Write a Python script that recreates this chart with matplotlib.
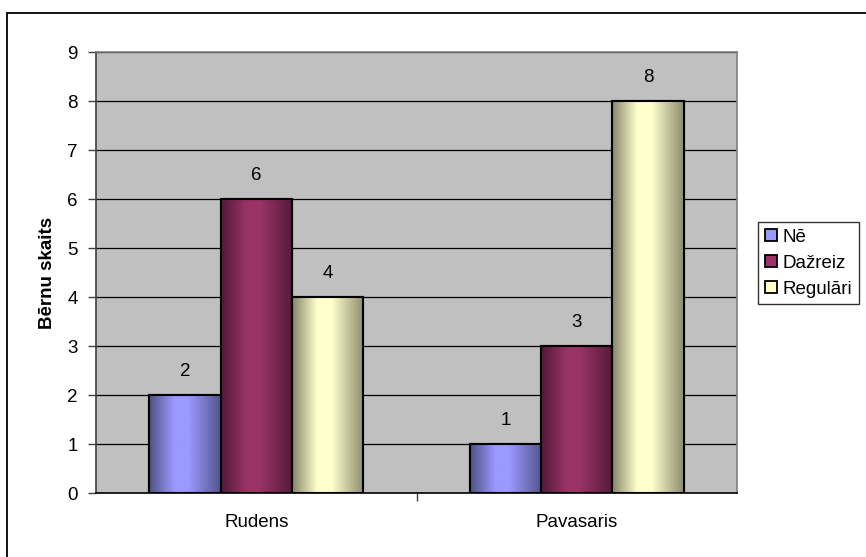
import numpy as np
import matplotlib.pyplot as plt
from matplotlib.colors import to_rgb, LinearSegmentedColormap
from matplotlib.patches import Rectangle, Patch

plt.rcParams['font.family'] = ['Liberation Sans', 'DejaVu Sans']

seasons = ['Rudens', 'Pavasaris']
answers = ['Nē', 'Dažreiz', 'Regulāri']
counts = {
    'Nē': [2, 1],
    'Dažreiz': [6, 3],
    'Regulāri': [4, 8],
}
colors = {'Nē': '#9999FF', 'Dažreiz': '#993366', 'Regulāri': '#FFFFCC'}

FS = 13.5

fig = plt.figure(figsize=(8.66, 5.57), dpi=100)
ax = fig.add_axes([0.1109, 0.1149, 0.7402, 0.7917])
ax.set_facecolor('#C0C0C0')

# chart frame, runs off the right and bottom edge
fig.patches.append(Rectangle((7 / 866, -0.1), 1.2, 1 - 13 / 557 + 0.1,
                             transform=fig.transFigure, fill=False,
                             edgecolor='black', linewidth=1.3, zorder=0))


def shade_cmap(base):
    # darker at both edges, bright just left of centre
    r, g, b = to_rgb(base)
    pos = [0.0, 0.35, 0.55, 1.0]
    fac = [0.52, 1.0, 1.0, 0.55]
    cols = [(p, (r * f, g * f, b * f)) for p, f in zip(pos, fac)]
    return LinearSegmentedColormap.from_list('shade', cols)


width = 0.2225
x = np.arange(len(seasons))
grad = np.linspace(0, 1, 256).reshape(1, -1)

for i, ans in enumerate(answers):
    offs = (i - 1) * width
    bars = ax.bar(x + offs, counts[ans], width, color=colors[ans],
                  edgecolor='black', linewidth=1.5, zorder=3)
    cmap = shade_cmap(colors[ans])
    for bar, val in zip(bars, counts[ans]):
        x0 = bar.get_x()
        im = ax.imshow(grad, cmap=cmap, aspect='auto', zorder=3.5,
                       extent=(x0, x0 + bar.get_width(), 0, bar.get_height()))
        im.set_clip_path(bar)
        edge = Rectangle((x0, 0), bar.get_width(), bar.get_height(),
                         fill=False, edgecolor='black', linewidth=1.5, zorder=4)
        ax.add_patch(edge)
        ax.annotate(str(val), (bar.get_x() + bar.get_width() / 2, val),
                    xytext=(0, 17), textcoords='offset points',
                    ha='center', va='center', fontsize=FS)

ax.set_xlim(-0.5, 1.5)
ax.set_ylim(0, 9)
ax.set_yticks(range(10))
ax.yaxis.grid(True, color='black', linewidth=0.9)
ax.set_axisbelow(True)

ax.set_xticks(x)
ax.set_xticklabels(seasons)
ax.set_xticks([0.5], minor=True)
ax.tick_params(axis='x', which='major', length=0, pad=15, labelsize=FS)
ax.tick_params(axis='x', which='minor', length=6, width=1, color='#404040')
ax.tick_params(axis='y', length=6, width=1, pad=7, labelsize=FS,
               color='#404040')

for side in ['top', 'right']:
    ax.spines[side].set_color('#808080')
ax.spines['left'].set_color('#404040')
ax.spines['bottom'].set_color('black')
for sp in ax.spines.values():
    sp.set_linewidth(1.2)

ax.set_ylabel('Bērnu skaits', fontsize=FS, fontweight='bold', labelpad=8)

handles = [Patch(facecolor=colors[a], edgecolor='black', linewidth=1.3)
           for a in answers]
leg = fig.legend(handles, answers, loc='upper left',
                 bbox_to_anchor=(758 / 866, 1 - 222 / 557),
                 fontsize=FS, frameon=True, fancybox=False,
                 handlelength=0.65, handleheight=0.65, handletextpad=0.3,
                 labelspacing=0.48, borderpad=0.35, borderaxespad=0)
leg.get_frame().set_edgecolor('black')
leg.get_frame().set_linewidth(1.0)

fig.savefig('out.png', dpi=100)
